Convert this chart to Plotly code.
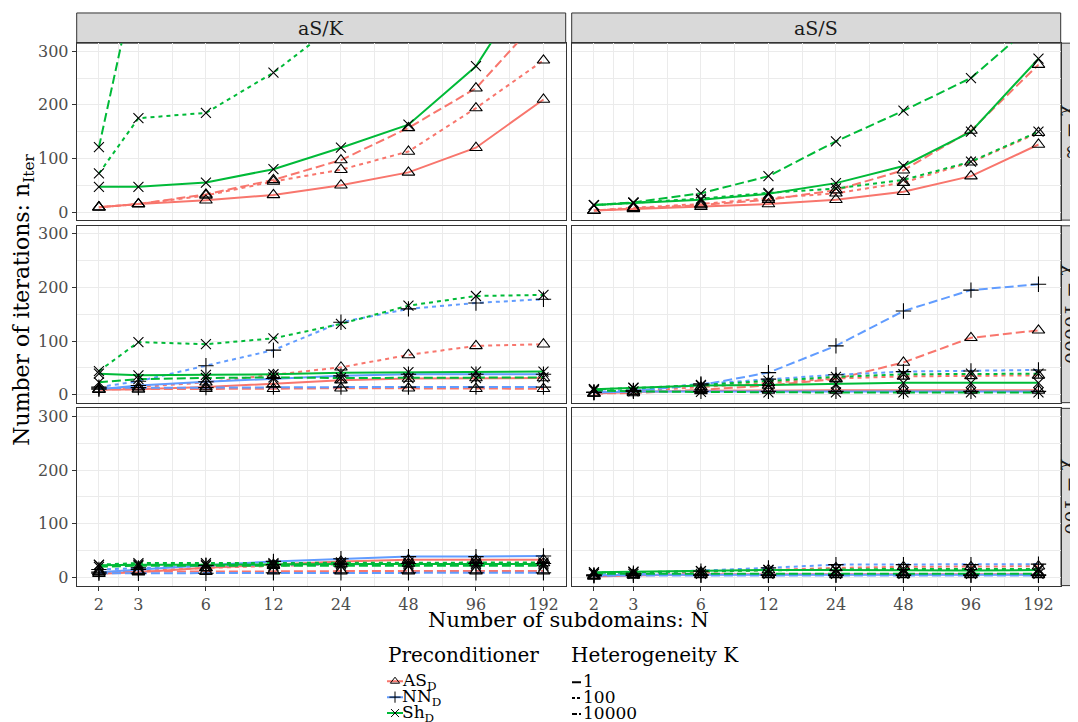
import plotly.graph_objects as go
import math

W, H = 1078, 722
OFF = 8  # page body margin of the html page

# ---------------- data ----------------
N = [2, 3, 6, 12, 24, 48, 96, 192]
N_labels = ["2", "3", "6", "12", "24", "48", "96", "192"]
N_minor = [2.449, 4.243, 8.485, 16.97, 33.94, 67.88, 135.76]
y_ticks = [0, 100, 200, 300]
y_minor = [50, 150, 250]

methods = ["aS/K", "aS/S"]
chis = ["χ = ∞", "χ = 10000", "χ = 100"]
preconds = ["AS<sub>D</sub>", "NN<sub>D</sub>", "Sh<sub>D</sub>"]
hetero = ["1", "100", "10000"]

# chi = inf, aS/K
ask_inf_as_1 = [9, 15, 22, 32, 50, 74, 120, 210]
ask_inf_as_100 = [9, 15, 31, 57, 79, 113, 194, 283]
ask_inf_as_10000 = [9, 15, 33, 60, 97, 157, 231, 369]
ask_inf_sh_1 = [47, 47, 55, 80, 120, 163, 272, 467]
ask_inf_sh_100 = [72, 175, 185, 260, 357, 520, 800, 1200]
ask_inf_sh_10000 = [121, 460, 700, 1000, 1400, 2000, 2800, 4000]
# chi = inf, aS/S
ass_inf_as_1 = [3, 6, 10, 15, 23, 38, 67, 126]
ass_inf_as_100 = [3, 8, 15, 26, 35, 55, 93, 148]
ass_inf_as_10000 = [3, 7, 13, 23, 41, 78, 152, 275]
ass_inf_sh_1 = [13, 17, 23, 34, 54, 86, 150, 286]
ass_inf_sh_100 = [13, 17, 25, 36, 44, 60, 94, 150]
ass_inf_sh_10000 = [13, 18, 35, 67, 132, 189, 250, 359]
# chi = 10000, aS/K
ask_1e4_as_1 = [9, 10, 14, 20, 27, 30, 31, 31]
ask_1e4_as_100 = [10, 14, 23, 37, 51, 74, 91, 94]
ask_1e4_as_10000 = [10, 10, 11, 11, 12, 12, 11, 11]
ask_1e4_nn_1 = [10, 17, 24, 30, 35, 38, 38, 38]
ask_1e4_nn_100 = [14, 25, 54, 83, 135, 160, 171, 178]
ask_1e4_nn_10000 = [12, 13, 13, 14, 14, 14, 14, 14]
ask_1e4_sh_1 = [39, 36, 37, 38, 41, 42, 43, 43]
ask_1e4_sh_100 = [44, 98, 94, 105, 132, 166, 184, 186]
ask_1e4_sh_10000 = [23, 29, 31, 32, 31, 31, 31, 32]
# chi = 10000, aS/S
ass_1e4_as_1 = [2, 5, 7, 8, 8, 8, 8, 8]
ass_1e4_as_100 = [3, 6, 14, 22, 30, 34, 35, 36]
ass_1e4_as_10000 = [2, 3, 9, 17, 29, 60, 106, 120]
ass_1e4_nn_1 = [4, 6, 6, 6, 6, 6, 6, 6]
ass_1e4_nn_100 = [5, 8, 20, 29, 37, 43, 44, 46]
ass_1e4_nn_10000 = [4, 7, 18, 41, 91, 156, 195, 206]
ass_1e4_sh_1 = [10, 13, 17, 18, 20, 22, 22, 22]
ass_1e4_sh_100 = [10, 12, 18, 26, 33, 38, 39, 39]
ass_1e4_sh_10000 = [8, 6, 5, 4, 4, 4, 4, 4]
# chi = 100, aS/K
ask_100_as_1 = [7, 10, 18, 24, 30, 33, 33, 33]
ask_100_as_100 = [10, 12, 18, 22, 25, 26, 27, 27]
ask_100_as_10000 = [10, 11, 11, 12, 12, 12, 12, 12]
ask_100_nn_1 = [10, 15, 23, 30, 35, 39, 39, 40]
ask_100_nn_100 = [15, 18, 22, 24, 25, 26, 26, 26]
ask_100_nn_10000 = [8, 8, 8, 9, 9, 9, 9, 9]
ask_100_sh_1 = [23, 24, 24, 25, 25, 25, 25, 25]
ask_100_sh_100 = [24, 27, 27, 27, 28, 28, 28, 28]
ask_100_sh_10000 = [20, 22, 22, 22, 22, 22, 22, 22]
# chi = 100, aS/S
ass_100_as_1 = [2, 4, 6, 6, 6, 6, 6, 6]
ass_100_as_100 = [3, 6, 10, 14, 18, 20, 20, 21]
ass_100_as_10000 = [4, 5, 5, 5, 5, 5, 5, 5]
ass_100_nn_1 = [4, 5, 5, 5, 5, 5, 5, 5]
ass_100_nn_100 = [5, 8, 12, 18, 24, 24, 24, 25]
ass_100_nn_10000 = [3, 4, 4, 4, 4, 4, 4, 4]
ass_100_sh_1 = [10, 11, 12, 14, 14, 13, 13, 14]
ass_100_sh_100 = [9, 10, 12, 14, 15, 16, 16, 16]
ass_100_sh_10000 = [7, 7, 7, 7, 7, 7, 7, 7]

# (row, col, precond index, K index, values)
series = [
    (0, 0, 0, 0, ask_inf_as_1), (0, 0, 0, 1, ask_inf_as_100), (0, 0, 0, 2, ask_inf_as_10000),
    (0, 0, 2, 0, ask_inf_sh_1), (0, 0, 2, 1, ask_inf_sh_100), (0, 0, 2, 2, ask_inf_sh_10000),
    (0, 1, 0, 0, ass_inf_as_1), (0, 1, 0, 1, ass_inf_as_100), (0, 1, 0, 2, ass_inf_as_10000),
    (0, 1, 2, 0, ass_inf_sh_1), (0, 1, 2, 1, ass_inf_sh_100), (0, 1, 2, 2, ass_inf_sh_10000),
    (1, 0, 0, 0, ask_1e4_as_1), (1, 0, 0, 1, ask_1e4_as_100), (1, 0, 0, 2, ask_1e4_as_10000),
    (1, 0, 1, 0, ask_1e4_nn_1), (1, 0, 1, 1, ask_1e4_nn_100), (1, 0, 1, 2, ask_1e4_nn_10000),
    (1, 0, 2, 0, ask_1e4_sh_1), (1, 0, 2, 1, ask_1e4_sh_100), (1, 0, 2, 2, ask_1e4_sh_10000),
    (1, 1, 0, 0, ass_1e4_as_1), (1, 1, 0, 1, ass_1e4_as_100), (1, 1, 0, 2, ass_1e4_as_10000),
    (1, 1, 1, 0, ass_1e4_nn_1), (1, 1, 1, 1, ass_1e4_nn_100), (1, 1, 1, 2, ass_1e4_nn_10000),
    (1, 1, 2, 0, ass_1e4_sh_1), (1, 1, 2, 1, ass_1e4_sh_100), (1, 1, 2, 2, ass_1e4_sh_10000),
    (2, 0, 0, 0, ask_100_as_1), (2, 0, 0, 1, ask_100_as_100), (2, 0, 0, 2, ask_100_as_10000),
    (2, 0, 1, 0, ask_100_nn_1), (2, 0, 1, 1, ask_100_nn_100), (2, 0, 1, 2, ask_100_nn_10000),
    (2, 0, 2, 0, ask_100_sh_1), (2, 0, 2, 1, ask_100_sh_100), (2, 0, 2, 2, ask_100_sh_10000),
    (2, 1, 0, 0, ass_100_as_1), (2, 1, 0, 1, ass_100_as_100), (2, 1, 0, 2, ass_100_as_10000),
    (2, 1, 1, 0, ass_100_nn_1), (2, 1, 1, 1, ass_100_nn_100), (2, 1, 1, 2, ass_100_nn_10000),
    (2, 1, 2, 0, ass_100_sh_1), (2, 1, 2, 1, ass_100_sh_100), (2, 1, 2, 2, ass_100_sh_10000),
]

# ---------------- style ----------------
FONT = "DejaVu Serif"
colors = ["#F8766D", "#619CFF", "#00BA38"]
symbols = ["triangle-up-open", "cross-thin-open", "x-thin-open"]
msizes = [11, 11, 10]
dashes = ["solid", "4px,4px", "9px,4px"]
GRID = "#EBEBEB"
BORDER = "#333333"

# panel geometry (pixels in the final screenshot)
col_x = [(76.7, 565.7), (571.7, 1060.7)]
row_y = [(42.3, 220.0), (225.7, 403.3), (409.0, 587.0)]
strip_top = (12.0, 42.3)
strip_right = (1061.0, 1092.0)


def px(x):
    return (x - OFF) / W


def py(y):
    return 1 - (y - OFF) / H


xr = [math.log10(2) - 0.05 * math.log10(96), math.log10(192) + 0.05 * math.log10(96)]
yr = [-15, 315]

fig = go.Figure()
layout = dict(
    width=W, height=H, margin=dict(l=0, r=0, t=0, b=0),
    paper_bgcolor="white", plot_bgcolor="rgba(0,0,0,0)", showlegend=False,
    font=dict(family=FONT, color="black"),
)


def axid(r, c):
    return r * 2 + c + 1


def sfx(i):
    return "" if i == 1 else str(i)


for r in range(3):
    for c in range(2):
        i = axid(r, c)
        xs = sfx(i)
        xdom = [px(col_x[c][0]), px(col_x[c][1])]
        ydom = [py(row_y[r][1]), py(row_y[r][0])]
        layout["xaxis" + xs] = dict(
            domain=xdom, anchor="y" + xs,
            type="log", range=xr, tickmode="array", tickvals=N, ticktext=N_labels,
            showticklabels=(r == 2), ticks="outside" if r == 2 else "", ticklen=4,
            tickcolor=BORDER, tickwidth=1,
            tickfont=dict(family=FONT, size=16, color="#4D4D4D"),
            showgrid=True, gridcolor=GRID, gridwidth=1.2,
            minor=dict(tickmode="array", tickvals=N_minor, showgrid=True,
                       gridcolor=GRID, gridwidth=0.6, ticks=""),
            showline=True, linecolor=BORDER, linewidth=1, mirror=True, zeroline=False,
        )
        layout["yaxis" + xs] = dict(
            domain=ydom, anchor="x" + xs,
            range=yr, tickmode="array", tickvals=y_ticks,
            showticklabels=(c == 0), ticks="outside" if c == 0 else "", ticklen=4,
            tickcolor=BORDER, tickwidth=1,
            tickfont=dict(family=FONT, size=16, color="#4D4D4D"),
            showgrid=True, gridcolor=GRID, gridwidth=1.2,
            minor=dict(tickmode="array", tickvals=y_minor, showgrid=True,
                       gridcolor=GRID, gridwidth=0.6, ticks=""),
            showline=True, linecolor=BORDER, linewidth=1, mirror=True, zeroline=False,
        )

# lines first, then points (ggplot layer order)
for (r, c, p, k, vals) in series:
    xs = sfx(axid(r, c))
    fig.add_trace(go.Scatter(
        x=N, y=vals, mode="lines", xaxis="x" + xs, yaxis="y" + xs,
        line=dict(color=colors[p], width=2, dash=dashes[k]), hoverinfo="skip",
    ))
for (r, c, p, k, vals) in series:
    xs = sfx(axid(r, c))
    fig.add_trace(go.Scatter(
        x=N, y=vals, mode="markers", xaxis="x" + xs, yaxis="y" + xs,
        marker=dict(symbol=symbols[p], size=msizes[p], color="black",
                    line=dict(color="black", width=1.1)),
        hoverinfo="skip",
    ))

shapes = []
annotations = []
# top strips
for c in range(2):
    shapes.append(dict(type="rect", xref="paper", yref="paper",
                       x0=px(col_x[c][0]), x1=px(col_x[c][1]),
                       y0=py(strip_top[1]), y1=py(strip_top[0]),
                       fillcolor="#D9D9D9", line=dict(color=BORDER, width=1), layer="below"))
    annotations.append(dict(xref="paper", yref="paper", x=px((col_x[c][0] + col_x[c][1]) / 2),
                            y=py((strip_top[0] + strip_top[1]) / 2), text=methods[c], showarrow=False,
                            font=dict(family=FONT, size=19, color="#1A1A1A"),
                            xanchor="center", yanchor="middle"))
# right strips
for r in range(3):
    shapes.append(dict(type="rect", xref="paper", yref="paper",
                       x0=px(strip_right[0]), x1=px(strip_right[1]),
                       y0=py(row_y[r][1]), y1=py(row_y[r][0]),
                       fillcolor="#D9D9D9", line=dict(color=BORDER, width=1), layer="below"))
    annotations.append(dict(xref="paper", yref="paper", x=px(1072),
                            y=py((row_y[r][0] + row_y[r][1]) / 2), text=chis[r], showarrow=False,
                            textangle=90, font=dict(family=FONT, size=19, color="#1A1A1A"),
                            xanchor="center", yanchor="middle"))

# axis titles
annotations.append(dict(xref="paper", yref="paper", x=px(568), y=py(622),
                        text="Number of subdomains: N", showarrow=False,
                        font=dict(family=FONT, size=21, color="black"), xanchor="center", yanchor="middle"))
annotations.append(dict(xref="paper", yref="paper", x=px(24), y=py(300),
                        text="Number of iterations: n<sub>Iter</sub>", showarrow=False, textangle=-90,
                        font=dict(family=FONT, size=22, color="black"), xanchor="center", yanchor="middle"))

# ---------------- legend (drawn manually) ----------------
leg_rows = [683, 699, 715]
annotations.append(dict(xref="paper", yref="paper", x=px(386), y=py(657), text="Preconditioner",
                        showarrow=False, font=dict(family=FONT, size=20, color="black"),
                        xanchor="left", yanchor="middle"))
annotations.append(dict(xref="paper", yref="paper", x=px(569), y=py(657), text="Heterogeneity K",
                        showarrow=False, font=dict(family=FONT, size=20, color="black"),
                        xanchor="left", yanchor="middle"))
for j in range(3):
    annotations.append(dict(xref="paper", yref="paper", x=px(400), y=py(leg_rows[j]), text=preconds[j],
                            showarrow=False, font=dict(family=FONT, size=17, color="black"),
                            xanchor="left", yanchor="middle"))
    annotations.append(dict(xref="paper", yref="paper", x=px(581), y=py(leg_rows[j]), text=hetero[j],
                            showarrow=False, font=dict(family=FONT, size=17, color="black"),
                            xanchor="left", yanchor="middle"))

# auxiliary pixel axis (legend region only) for legend keys
LX0, LX1, LY0, LY1 = 380, 760, 672, 722
layout["xaxis30"] = dict(domain=[px(LX0), px(LX1)], range=[LX0, LX1], visible=False,
                         anchor="y30", fixedrange=True)
layout["yaxis30"] = dict(domain=[py(LY1), py(LY0)], range=[LY1, LY0], visible=False,
                         anchor="x30", fixedrange=True)
for j in range(3):
    fig.add_trace(go.Scatter(x=[387, 403], y=[leg_rows[j], leg_rows[j]], mode="lines",
                             xaxis="x30", yaxis="y30", line=dict(color=colors[j], width=2),
                             hoverinfo="skip", cliponaxis=False))
    fig.add_trace(go.Scatter(x=[395], y=[leg_rows[j]], mode="markers", xaxis="x30", yaxis="y30",
                             marker=dict(symbol=symbols[j], size=8, color="black",
                                         line=dict(color="black", width=1)),
                             hoverinfo="skip", cliponaxis=False))
    fig.add_trace(go.Scatter(x=[572, 581], y=[leg_rows[j] + 1, leg_rows[j] + 1], mode="lines",
                             xaxis="x30", yaxis="y30",
                             line=dict(color="black", width=2, dash=["solid", "3px,2px", "5px,2px"][j]),
                             hoverinfo="skip", cliponaxis=False))

layout["shapes"] = shapes
layout["annotations"] = annotations
fig.update_layout(**layout)
fig.write_html("out.html")
